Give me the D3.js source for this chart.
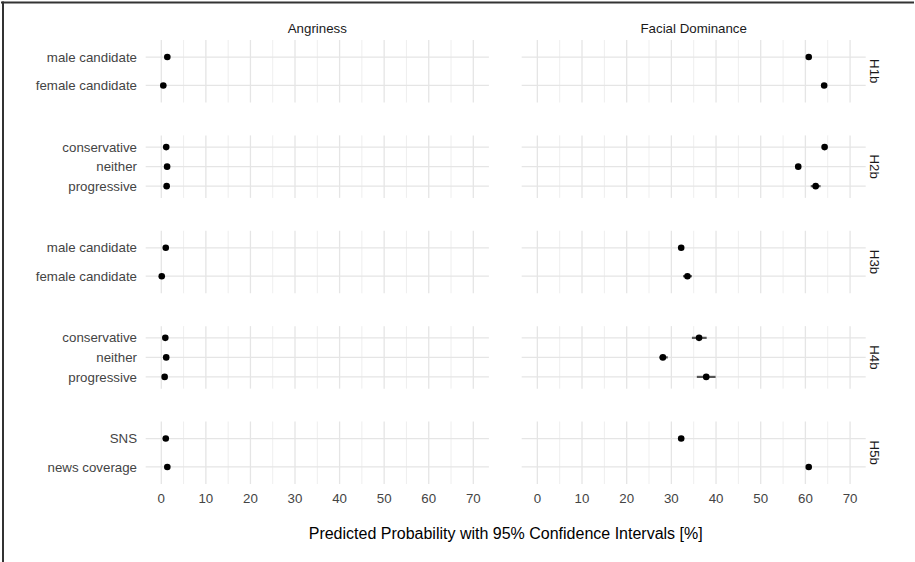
<!DOCTYPE html>
<html>
<head>
<meta charset="utf-8">
<script src="https://cdn.jsdelivr.net/npm/d3@7"></script>
<style>
  body { margin:0; background:#fff; }
  text { font-family: "Liberation Sans", Arial, Helvetica, sans-serif; }
</style>
</head>
<body>
<div id="chart"></div>
<script>
// rows (hypotheses) and their levels, top to bottom
var hypotheses = ["H1b", "H2b", "H3b", "H4b", "H5b"];
var levels = [
  ["male candidate", "female candidate"],
  ["conservative", "neither", "progressive"],
  ["male candidate", "female candidate"],
  ["conservative", "neither", "progressive"],
  ["SNS", "news coverage"]
];
var outcomes = ["Angriness", "Facial Dominance"];

// estimates and 95% CI, same order as levels
var angerEst = [[1.35, 0.45], [1.1, 1.3, 1.2], [1.0, 0.1], [0.9, 1.1, 0.75], [1.0, 1.35]];
var angerLo  = [[1.0, 0.2], [0.8, 1.0, 0.9], [0.7, 0.0], [0.6, 0.8, 0.5], [0.7, 1.0]];
var angerHi  = [[1.7, 0.7], [1.4, 1.6, 1.5], [1.3, 0.3], [1.2, 1.4, 1.0], [1.3, 1.7]];

var domEst = [[60.75, 64.2], [64.3, 58.4, 62.3], [32.2, 33.6], [36.2, 28.1, 37.8], [32.2, 60.75]];
var domLo  = [[60.3, 63.8], [63.7, 58.0, 61.2], [31.8, 32.6], [34.6, 27.3, 35.7], [31.6, 60.3]];
var domHi  = [[61.2, 64.6], [64.9, 58.8, 63.4], [32.6, 34.6], [37.9, 29.2, 39.9], [32.8, 61.2]];

var xTicks = [0, 10, 20, 30, 40, 50, 60, 70];
var xMinor = [5, 15, 25, 35, 45, 55, 65];
var xTitle = "Predicted Probability with 95% Confidence Intervals [%]";

var width = 915, height = 562;
var svg = d3.select("#chart").append("svg")
    .attr("width", width).attr("height", height);

// frame (top and left edges only)
svg.append("line").attr("x1", 1).attr("x2", 914).attr("y1", 2.5).attr("y2", 2.5)
    .attr("stroke", "#333").attr("stroke-width", 2);
svg.append("line").attr("x1", 3).attr("x2", 3).attr("y1", 1.5).attr("y2", height)
    .attr("stroke", "#333").attr("stroke-width", 2);

var panelX = [[145.7, 488.9], [521.7, 865.7]];
var panelTop = 40, panelH = 62.5, panelStep = 95.375;

var est = [angerEst, domEst], lo = [angerLo, domLo], hi = [angerHi, domHi];

outcomes.forEach(function(name, c) {
  var x = d3.scaleLinear().domain([-3.5, 73.5]).range(panelX[c]);
  var cx = (panelX[c][0] + panelX[c][1]) / 2;

  svg.append("text").attr("x", cx).attr("y", 33)
      .attr("text-anchor", "middle").attr("font-size", 13.3).attr("fill", "#1a1a1a")
      .text(name);

  hypotheses.forEach(function(h, r) {
    var top = panelTop + r * panelStep;
    var y = d3.scalePoint().domain(d3.range(levels[r].length))
        .range([top, top + panelH]).padding(0.6);
    var g = svg.append("g");

    g.selectAll(".minor").data(xMinor).enter().append("line")
        .attr("x1", function(d) { return x(d); }).attr("x2", function(d) { return x(d); })
        .attr("y1", top).attr("y2", top + panelH)
        .attr("stroke", "#ececec").attr("stroke-width", 0.9);
    g.selectAll(".major").data(xTicks).enter().append("line")
        .attr("x1", function(d) { return x(d); }).attr("x2", function(d) { return x(d); })
        .attr("y1", top).attr("y2", top + panelH)
        .attr("stroke", "#e5e5e5").attr("stroke-width", 1.3);
    g.selectAll(".hgrid").data(y.domain()).enter().append("line")
        .attr("x1", panelX[c][0]).attr("x2", panelX[c][1])
        .attr("y1", function(d) { return y(d); }).attr("y2", function(d) { return y(d); })
        .attr("stroke", "#e5e5e5").attr("stroke-width", 1.3);

    // error bars
    g.selectAll(".ci").data(y.domain()).enter().append("line")
        .attr("x1", function(i) { return x(lo[c][r][i]); })
        .attr("x2", function(i) { return x(hi[c][r][i]); })
        .attr("y1", function(i) { return y(i); }).attr("y2", function(i) { return y(i); })
        .attr("stroke", "#555").attr("stroke-width", 2.2);
    g.selectAll(".pt").data(y.domain()).enter().append("circle")
        .attr("cx", function(i) { return x(est[c][r][i]); })
        .attr("cy", function(i) { return y(i); })
        .attr("r", 3.3).attr("fill", "#000");

    if (c === 0) {
      g.selectAll(".ylab").data(y.domain()).enter().append("text")
          .attr("x", 137).attr("y", function(i) { return y(i); })
          .attr("dy", "0.35em").attr("text-anchor", "end")
          .attr("font-size", 13.3).attr("fill", "#444")
          .text(function(i) { return levels[r][i]; });
    } else {
      var sy = top + panelH / 2;
      g.append("text").attr("transform", "translate(875," + sy + ") rotate(90)")
          .attr("text-anchor", "middle").attr("dy", "0.35em")
          .attr("font-size", 13.3).attr("fill", "#1a1a1a").text(h);
    }
  });

  svg.selectAll(null).data(xTicks).enter().append("text")
      .attr("x", function(d) { return x(d); }).attr("y", 498)
      .attr("dy", "0.35em").attr("text-anchor", "middle")
      .attr("font-size", 13.3).attr("fill", "#444")
      .text(function(d) { return d; });
});

svg.append("text").attr("x", (panelX[0][0] + panelX[1][1]) / 2).attr("y", 533)
    .attr("dy", "0.35em").attr("text-anchor", "middle")
    .attr("font-size", 16).attr("fill", "#000").text(xTitle);
</script>
</body>
</html>
